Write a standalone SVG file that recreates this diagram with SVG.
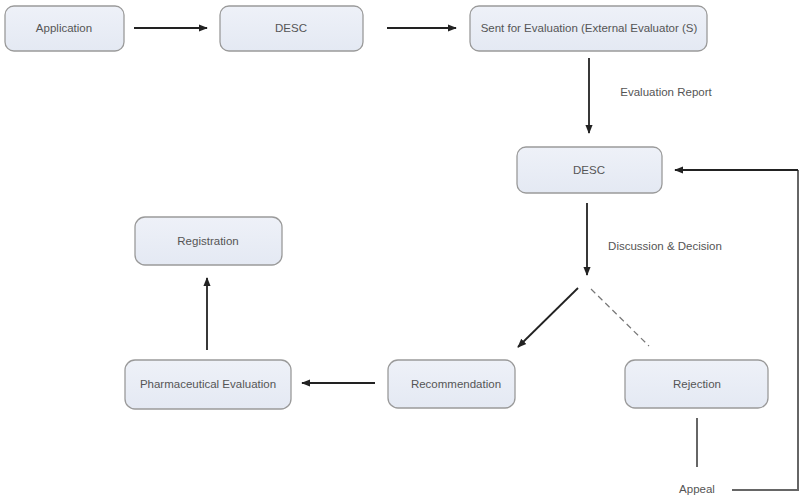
<svg xmlns="http://www.w3.org/2000/svg" width="801" height="496" viewBox="0 0 801 496">
<style>
.box{fill:url(#g);stroke:#9a9a9a;stroke-width:1.3}
.t{font-family:"Liberation Sans",Arial,sans-serif;font-size:11.5px;fill:#555;text-anchor:middle}
.c{stroke:#222;stroke-width:1.8;fill:none}
.g{stroke:#666;stroke-width:2;fill:none}
</style>
<defs>
<linearGradient id="g" x1="0" y1="0" x2="0" y2="1"><stop offset="0" stop-color="#eef1f8"/><stop offset="1" stop-color="#e4e9f3"/></linearGradient>
<marker id="a" viewBox="0 0 10 10" refX="9" refY="5" markerWidth="5" markerHeight="5" orient="auto"><path d="M0,1 L10,5 L0,9 z" fill="#222"/></marker>
</defs>
<rect width="801" height="496" fill="#fff"/>
<g id="connectors">
<line class="c" x1="134" y1="28" x2="207" y2="28" marker-end="url(#a)"/>
<line class="c" x1="387" y1="28" x2="456" y2="28" marker-end="url(#a)"/>
<line class="c" x1="589" y1="58" x2="589" y2="133" marker-end="url(#a)"/>
<text class="t" x="666" y="96">Evaluation Report</text>
<line class="c" x1="587" y1="203" x2="587" y2="275" marker-end="url(#a)"/>
<text class="t" x="665" y="250">Discussion &amp; Decision</text>
<line class="c" x1="578" y1="288" x2="518" y2="347" marker-end="url(#a)"/>
<line x1="591" y1="289" x2="649" y2="346" stroke="#777" stroke-width="1.2" stroke-dasharray="6,4"/>
<line class="c" x1="375" y1="383" x2="302" y2="383" marker-end="url(#a)"/>
<line class="c" x1="207" y1="350" x2="207" y2="278" marker-end="url(#a)"/>
<line class="g" x1="697" y1="418" x2="697" y2="467"/>
<text class="t" x="697" y="493">Appeal</text>
<polyline class="g" points="732,490 798,490 798,170"/>
<line class="c" x1="798" y1="170" x2="675" y2="170" marker-end="url(#a)"/>
</g>
<g id="application"><rect class="box" x="5" y="6" width="119" height="45" rx="9"/><text class="t" x="64" y="32">Application</text></g>
<g id="desc1"><rect class="box" x="220" y="6" width="143" height="45" rx="9"/><text class="t" x="291" y="32">DESC</text></g>
<g id="sent"><rect class="box" x="470" y="6" width="237" height="45" rx="9"/><text class="t" x="589" y="32">Sent for Evaluation (External Evaluator (S)</text></g>
<g id="desc2"><rect class="box" x="517" y="147" width="145" height="46" rx="9"/><text class="t" x="589" y="174">DESC</text></g>
<g id="registration"><rect class="box" x="135" y="217" width="147" height="48" rx="10"/><text class="t" x="208" y="245">Registration</text></g>
<g id="pharma"><rect class="box" x="125" y="360" width="166" height="49" rx="10"/><text class="t" x="208" y="388">Pharmaceutical Evaluation</text></g>
<g id="recommendation"><rect class="box" x="388" y="360" width="127" height="48" rx="10"/><text class="t" x="456" y="388">Recommendation</text></g>
<g id="rejection"><rect class="box" x="625" y="360" width="143" height="48" rx="10"/><text class="t" x="697" y="388">Rejection</text></g>
</svg>
